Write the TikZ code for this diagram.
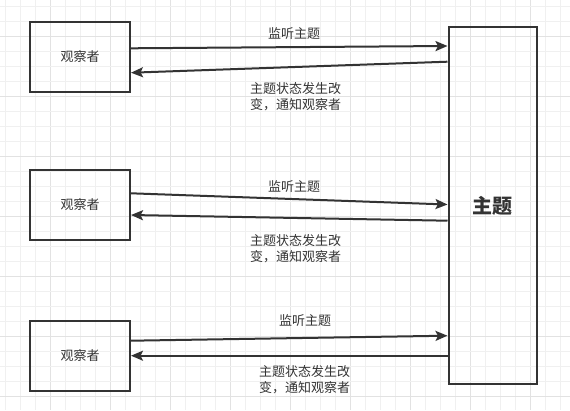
\documentclass[tikz,border=0pt]{standalone}
\usepackage{fontspec}
\setmainfont{Noto Sans CJK SC}
\usetikzlibrary{arrows.meta}
\definecolor{ink}{HTML}{333333}
\definecolor{gminor}{HTML}{F0F0F0}
\definecolor{gmajor}{HTML}{E2E2E2}
\tikzset{
  obsbox/.style={draw=ink, line width=2pt, minimum width=100pt, minimum height=70pt, inner sep=0pt, text=ink, font=\fontsize{13pt}{15pt}\selectfont},
  subjbox/.style={draw=ink, line width=2pt, minimum width=88pt, minimum height=357pt, inner sep=0pt, text=ink, font=\fontsize{20pt}{24pt}\selectfont\bfseries},
  conn/.style={draw=ink, line width=2pt, -{Stealth[length=12pt,width=10pt,inset=2.5pt]}},
  lbl/.style={text=ink, font=\fontsize{13pt}{16pt}\selectfont, inner sep=0pt},
  lbl2/.style={lbl, align=left}
}
\begin{document}
\begin{tikzpicture}[x=1pt,y=-1pt]
\useasboundingbox (0,0) rectangle (570,410);
\fill[white] (0,0) rectangle (570,410);
% grid
\foreach \i in {0,...,37} {
  \pgfmathsetmacro{\xx}{5+15*\i}
  \pgfmathtruncatemacro{\m}{mod(\i,4)}
  \ifnum\m=3 \draw[gmajor, line width=1pt] (\xx,0) -- (\xx,410);
  \else \draw[gminor, line width=1pt] (\xx,0) -- (\xx,410); \fi
}
\foreach \i in {0,...,27} {
  \pgfmathsetmacro{\yy}{6.7+15*\i}
  \pgfmathtruncatemacro{\m}{mod(\i,4)}
  \ifnum\m=2 \draw[gmajor, line width=1pt] (0,\yy) -- (570,\yy);
  \else \draw[gminor, line width=1pt] (0,\yy) -- (570,\yy); \fi
}
% nodes
\node[obsbox] (o1) at (80,57) {观察者};
\node[obsbox] (o2) at (80,205) {观察者};
\node[obsbox] (o3) at (80,356) {观察者};
\node[subjbox] (s) at (492.5,205.5) {主题};
% connectors
\draw[conn] (o1.east |- 0,48.3) -- (s.west |- 0,46);
\draw[conn] (s.west |- 0,61.7) -- (o1.east |- 0,72.7);
\draw[conn] (o2.east |- 0,193.3) -- (s.west |- 0,204.5);
\draw[conn] (s.west |- 0,220.7) -- (o2.east |- 0,215);
\draw[conn] (o3.east |- 0,340.7) -- (s.west |- 0,335.7);
\draw[conn] (s.west |- 0,355.7) -- (o3.east |- 0,355.7);
% labels
\node[lbl] (l1) at (294,34) {监听主题};
\node[lbl2, anchor=west] (r1) at (250,97) {主题状态发生改\\变，通知观察者};
\node[lbl] (l2) at (294,186.7) {监听主题};
\node[lbl2, anchor=west] (r2) at (250,249) {主题状态发生改\\变，通知观察者};
\node[lbl] (l3) at (305,320.7) {监听主题};
\node[lbl2, anchor=west] (r3) at (259,380) {主题状态发生改\\变，通知观察者};
\end{tikzpicture}
\end{document}
